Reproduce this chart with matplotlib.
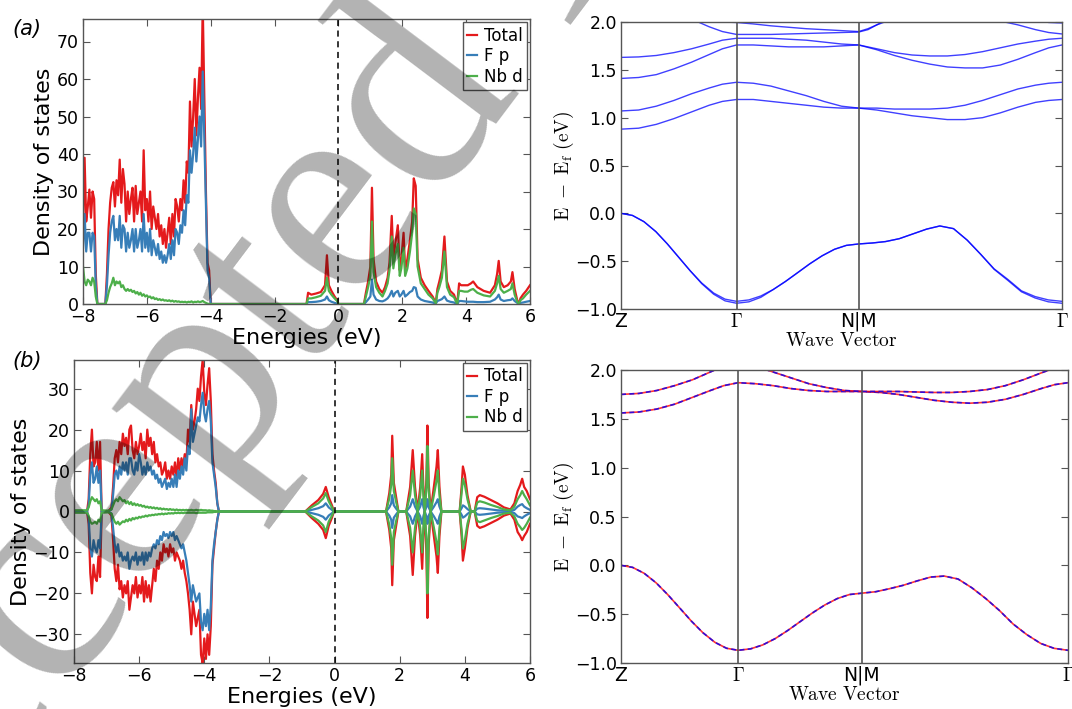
import numpy as np
import matplotlib.pyplot as plt

plt.rcParams['font.family'] = 'DejaVu Sans'
plt.rcParams['mathtext.fontset'] = 'cm'

RED, BLUE, GREEN = '#e41a1c', '#377eb8', '#4daf4a'
SPINE = '#555555'

# ---------------- DOS (a): valence part ----------------
ea_val = [-8.00, -7.95, -7.90, -7.85, -7.80, -7.75, -7.70, -7.65, -7.60, -7.55,
          -7.50, -7.40, -7.30, -7.25, -7.20, -7.15, -7.10, -7.05, -7.00, -6.95,
          -6.90, -6.85, -6.80, -6.75, -6.70, -6.65, -6.60, -6.55, -6.50, -6.45,
          -6.40, -6.35, -6.30, -6.25, -6.20, -6.15, -6.10, -6.05, -6.00, -5.95,
          -5.90, -5.85, -5.80, -5.75, -5.70, -5.65, -5.60, -5.55, -5.50, -5.45,
          -5.40, -5.35, -5.30, -5.25, -5.20, -5.15, -5.10, -5.05, -5.00, -4.95,
          -4.90, -4.85, -4.80, -4.75, -4.70, -4.65, -4.60, -4.55, -4.50, -4.45,
          -4.40, -4.35, -4.30, -4.25, -4.20, -4.15, -4.10, -4.05, -4.00]
tot_a_val = [20, 39, 22, 26, 30.5, 23, 30, 28, 8, 0,
             0, 0, 0, 8, 20, 27, 31, 32.5, 26, 33,
             29, 38.5, 27, 36, 32, 22, 30, 24, 28, 31,
             22, 31.5, 24, 27, 30, 22, 41, 25, 28, 22,
             30, 20, 26, 23, 20, 24, 18, 21, 16, 20,
             15, 19, 23, 16, 24, 18, 28, 26, 22, 28,
             25, 33, 27, 38, 35, 54, 42, 50, 60, 45,
             55, 63, 52, 80, 55, 30, 11, 9, 0]
fp_a_val = [15, 24, 14, 19, 19, 14, 19, 18, 5, 0,
            0, 0, 0, 5, 13, 19, 22, 23.5, 17, 20,
            17, 23.5, 15, 21, 20, 14, 19, 15, 17, 20,
            14, 20, 15, 17, 20, 14, 24, 15, 19, 14,
            20, 13, 17, 15, 13, 16, 12, 14, 11, 13,
            11, 13, 16, 12, 17, 13, 20, 19, 16, 21,
            19, 25, 21, 29, 27, 41, 35, 40, 47, 38,
            44, 50, 42, 62, 44, 25, 9, 7, 0]
nbd_a_val = [10, 6, 5, 6.5, 6, 5, 7, 6, 2, 0,
             0, 0, 0, 1, 3, 4.5, 5.5, 7, 5, 6,
             5.5, 6, 4.5, 5, 4, 3.5, 4, 3.5, 3.8, 3.2,
             3.5, 2.8, 3.2, 2.5, 3, 2.2, 2.6, 2, 2.3, 1.8,
             2, 1.5, 1.8, 1.3, 1.5, 1.1, 1.3, 1, 1.2, 0.9,
             1, 0.8, 1, 0.7, 0.9, 0.6, 0.8, 0.6, 0.7, 0.5,
             0.6, 0.5, 0.6, 0.4, 0.6, 0.5, 0.7, 0.4, 0.6, 0.5,
             0.7, 0.5, 0.6, 0.8, 0.5, 0.3, 0.1, 0, 0]

# ---------------- DOS (a): conduction part ----------------
ea_con = [-1.00, -0.95, -0.85, -0.70, -0.55, -0.42, -0.36, -0.30, -0.22, -0.12,
          -0.04, 0.00, 0.80, 0.86, 0.93, 1.00, 1.05, 1.10, 1.18, 1.28,
          1.38, 1.46, 1.54, 1.60, 1.67, 1.72, 1.78, 1.86, 1.92, 1.97,
          2.04, 2.09, 2.16, 2.24, 2.31, 2.36, 2.42, 2.48, 2.58, 2.70,
          2.82, 2.95, 3.05, 3.10, 3.16, 3.24, 3.32, 3.40, 3.50, 3.62,
          3.72, 3.78, 3.84, 3.95, 4.05, 4.15, 4.22, 4.35, 4.55, 4.75,
          4.90, 4.97, 5.02, 5.08, 5.18, 5.30, 5.40, 5.45, 5.52, 5.60,
          5.65, 5.70, 5.78, 5.88, 6.00]
tot_a_con = [0, 3, 2.5, 2.8, 3.2, 5, 13, 5, 3.5, 2,
             1, 0, 0, 3, 6, 10, 31, 12, 6, 4,
             3, 4.5, 7, 11, 23.5, 12, 16, 21, 9, 12,
             19, 9, 12, 17, 22, 33.5, 31.5, 12, 7, 5,
             3.5, 2, 0.3, 4, 6, 9, 18, 6, 3.5, 2.5,
             0, 5.5, 5, 5, 5, 5.5, 6, 4.5, 3.5, 3,
             5, 8, 11.5, 6, 4.5, 5, 6, 8.5, 4, 1,
             0, 1.5, 2.5, 3.5, 5]
fp_a_con = [0, 0.5, 0.5, 0.6, 0.8, 1.2, 2, 1, 0.6, 0.3,
            0.1, 0, 0, 0.5, 1.2, 2, 6.5, 2.5, 1.2, 0.8,
            0.7, 1, 1.5, 2.2, 3.5, 2, 3, 3.5, 2, 2.5,
            3.5, 2, 2.5, 3.2, 3.5, 4.5, 4.3, 2, 1.2, 0.8,
            0.6, 0.4, 0.1, 0.8, 1, 1.3, 2, 0.9, 0.6, 0.4,
            0, 0.8, 0.8, 0.7, 0.6, 0.6, 0.6, 0.5, 0.5, 0.6,
            1.2, 1.8, 2.5, 1.2, 0.8, 1, 1.1, 1.5, 0.8, 0.3,
            0, 0.3, 0.4, 0.6, 0.8]
nbd_a_con = [0, 1.5, 1.5, 1.8, 2.2, 3.5, 7, 3.5, 2.5, 1.5,
             0.8, 0, 0, 2, 4.5, 7.5, 22, 8.5, 4.5, 3,
             2, 3.5, 5.5, 9, 18, 9.5, 13, 16, 7.5, 9.5,
             15, 7.5, 9.5, 14, 19, 25.5, 24, 10, 5.5, 4,
             2.5, 1.5, 0.2, 3, 4.5, 7, 14, 4.5, 2.5, 1.8,
             0, 3.5, 3.5, 3.3, 3.3, 3.8, 4, 3, 2.3, 2,
             3.5, 5.5, 7.5, 4, 3, 3.5, 4, 5.5, 2.5, 0.6,
             0, 1, 1.5, 2.5, 3.5]

# ---------------- DOS (b): valence part (spin up / down) ----------------
eb_val = [-8.00, -7.60, -7.55, -7.50, -7.45, -7.40, -7.35, -7.30, -7.25, -7.20,
          -7.15, -6.95, -6.85, -6.80, -6.75, -6.70, -6.65, -6.60, -6.55, -6.50,
          -6.45, -6.40, -6.35, -6.30, -6.25, -6.20, -6.15, -6.10, -6.05, -6.00,
          -5.95, -5.90, -5.85, -5.80, -5.75, -5.70, -5.65, -5.60, -5.55, -5.50,
          -5.45, -5.40, -5.35, -5.30, -5.25, -5.20, -5.15, -5.10, -5.05, -5.00,
          -4.95, -4.90, -4.85, -4.80, -4.75, -4.70, -4.65, -4.60, -4.55, -4.50,
          -4.45, -4.40, -4.35, -4.30, -4.25, -4.20, -4.15, -4.10, -4.05, -4.00,
          -3.95, -3.90, -3.85, -3.80, -3.75, -3.70, -3.65, -3.60, -3.55]
tot_b_up_val = [0, 0, 3, 14, 20, 11, 12, 17, 10, 17,
                0, 0, 1, 6, 13, 15, 12, 17, 14, 19,
                16, 18, 14, 20, 21, 15, 13, 17, 14, 16,
                19, 15, 17, 13, 20, 16, 18, 14, 17, 12,
                14, 11, 12, 9, 10, 12, 8, 10, 8, 11,
                9, 12, 8, 13, 10, 13, 11, 14, 12, 20,
                17, 26, 20, 22, 25, 30, 27, 33, 37, 29,
                26, 31, 35, 27, 14, 10, 7, 2, 0]
fp_b_up_val = [0, 0, 1.5, 9, 12, 7, 8, 11, 7, 10,
               0, 0, 0.5, 4, 9, 10, 8, 11, 9, 12,
               10, 12, 9, 13, 13, 10, 9, 12, 10, 14,
               12, 9, 11, 9, 12, 10, 11, 9, 10, 8,
               9, 7, 8, 6, 7, 8, 5.5, 7, 6, 8,
               6, 9, 6, 10, 8, 11, 9, 13, 10, 16,
               14, 25, 17, 19, 21, 23, 22, 26, 29, 24,
               22, 25, 27, 22, 12, 9, 6, 2, 0]
nbd_b_up_val = [0.3, 0.3, 1, 2.5, 3.5, 3, 2.5, 3, 2, 2.5,
                0.3, 0.2, 0.5, 1.5, 2.5, 3, 2.5, 3.5, 3, 2.5,
                2.8, 2, 2.5, 1.8, 2.3, 1.6, 2, 1.5, 1.8, 1.4,
                1.6, 1.2, 1.4, 1.0, 1.2, 0.9, 1.1, 0.8, 1.0, 0.7,
                0.9, 0.6, 0.8, 0.5, 0.7, 0.5, 0.6, 0.4, 0.6, 0.4,
                0.5, 0.3, 0.5, 0.3, 0.4, 0.3, 0.4, 0.3, 0.4, 0.3,
                0.3, 0.4, 0.3, 0.3, 0.4, 0.3, 0.3, 0.4, 0.3, 0.3,
                0.3, 0.2, 0.3, 0.2, 0.2, 0.1, 0.1, 0.0, 0]
tot_b_dn_val = [0, 0, -3, -15, -20, -13, -16, -17, -11, -16,
                0, 0, -1, -7, -14, -17, -13, -19, -17, -21,
                -18, -20, -17, -24, -21, -18, -20, -16, -21, -18,
                -20, -16, -22, -17, -21, -18, -22, -18, -14, -17,
                -12, -14, -10, -12, -8, -10, -9, -11, -8, -10,
                -9, -12, -10, -11, -12, -14, -12, -15, -17, -20,
                -24, -30, -22, -25, -28, -26, -24, -35, -37, -31,
                -36, -30, -35, -28, -13, -9, -5, -2, 0]
fp_b_dn_val = [0, 0, -1.5, -9, -11, -7, -9, -10, -7, -9,
               0, 0, -0.5, -4, -8, -10, -8, -11, -10, -12,
               -11, -12, -10, -14, -12, -11, -12, -10, -13, -11,
               -12, -10, -13, -10, -12, -10, -11, -9, -8, -9,
               -7, -8, -6, -7, -5, -6, -5.5, -6.5, -5, -6,
               -5, -7, -6, -7, -8, -9, -8, -10, -12, -15,
               -18, -22, -18, -20, -22, -21, -20, -27, -29, -25,
               -28, -24, -29, -23, -12, -8, -5, -2, 0]
nbd_b_dn_val = [-0.3, -0.3, -1, -2.5, -3, -2.8, -2.5, -3, -2, -2.5,
                -0.3, -0.2, -0.5, -1.5, -2.5, -3, -2.5, -3.2, -2.8, -2.4,
                -2.6, -2, -2.4, -1.8, -2.2, -1.6, -1.9, -1.5, -1.7, -1.3,
                -1.5, -1.2, -1.3, -1.0, -1.2, -0.9, -1.0, -0.8, -0.9, -0.7,
                -0.8, -0.6, -0.7, -0.5, -0.7, -0.5, -0.6, -0.4, -0.5, -0.4,
                -0.5, -0.3, -0.4, -0.3, -0.4, -0.3, -0.4, -0.3, -0.3, -0.3,
                -0.3, -0.3, -0.3, -0.3, -0.4, -0.3, -0.3, -0.3, -0.3, -0.3,
                -0.3, -0.2, -0.2, -0.2, -0.2, -0.1, -0.1, 0, 0]

# ---------------- DOS (b): conduction part ----------------
eb_con = [-0.90, -0.70, -0.50, -0.35, -0.27, -0.18, -0.08, -0.02,
          1.58, 1.68, 1.74, 1.77, 1.82, 1.90, 1.96,
          2.20, 2.32, 2.40, 2.47, 2.55, 2.63, 2.69, 2.73, 2.77, 2.82, 2.85, 2.89,
          2.95, 3.05, 3.13, 3.17, 3.22, 3.28,
          3.84, 3.90, 3.94, 4.00, 4.08, 4.18,
          4.30, 4.38, 4.46, 4.60, 4.80, 5.00, 5.20, 5.40,
          5.52, 5.62, 5.70, 5.76, 5.82, 5.90, 6.00]
tot_b_up_con = [0, 1.5, 2.8, 4.3, 6, 3.5, 1.5, 0,
                0, 4.5, 9, 18.5, 7, 3, 0,
                0, 6, 15, 6, 0, 6, 14, 5, 0, 8, 21, 7, 0, 6, 11, 15, 6, 0,
                0, 6, 11, 9, 4, 0,
                0, 3.5, 4, 3.6, 2.8, 2, 1, 0.5,
                2, 5, 6.5, 8, 6, 5, 3]
fp_b_up_con = [0, 0.4, 0.8, 1.3, 2, 1, 0.4, 0,
               0, 1, 2, 4, 1.5, 0.6, 0,
               0, 1.2, 3, 1.2, 0, 1.2, 3, 1, 0, 1.2, 3, 1, 0, 1.2, 2.3, 3, 1.2, 0,
               0, 0.8, 1.5, 1.2, 0.6, 0,
               0, 0.7, 0.8, 0.7, 0.5, 0.3, 0.2, 0.1,
               0.4, 1.2, 1.6, 1.8, 1.2, 0.8, 0.4]
nbd_b_up_con = [0, 1.1, 2, 3.2, 4.5, 2.5, 1, 0,
                0, 3.2, 6.5, 13, 5, 2, 0,
                0, 4, 10, 4, 0, 4, 10, 3.5, 0, 6, 16, 5, 0, 4, 7.5, 10, 4, 0,
                0, 4.5, 8, 6.5, 3, 0,
                0, 2.2, 2.5, 2.2, 1.6, 1.1, 0.5, 0.3,
                1.2, 3, 4, 5, 4, 3, 1.5]
tot_b_dn_con = [0, -1.6, -3, -4.5, -6.5, -3.5, -1.5, 0,
                0, -4.5, -9, -18, -7, -3, 0,
                0, -6, -15.5, -6, 0, -6, -14, -5, 0, -10, -26, -8, 0, -6, -11, -15, -6, 0,
                0, -6, -12, -9, -4, 0,
                0, -3.5, -4, -3.6, -2.8, -2, -1, -0.5,
                -2, -5, -6, -7, -6, -5, -3]
fp_b_dn_con = [0, -0.4, -0.8, -1.3, -2, -1, -0.4, 0,
               0, -1, -2, -4, -1.5, -0.6, 0,
               0, -1.2, -3, -1.2, 0, -1.2, -3, -1, 0, -1.2, -3, -1, 0, -1.2, -2.3, -3, -1.2, 0,
               0, -0.8, -1.5, -1.2, -0.6, 0,
               0, -0.7, -0.8, -0.7, -0.5, -0.3, -0.2, -0.1,
               -0.4, -1.2, -1.4, -1.6, -1.2, -0.8, -0.4]
nbd_b_dn_con = [0, -1.2, -2.2, -3.4, -5, -2.5, -1, 0,
                0, -3.2, -6.5, -13, -5, -2, 0,
                0, -4, -10, -4, 0, -4, -10, -3.5, 0, -7, -20, -6, 0, -4, -7.5, -10.5, -4, 0,
                0, -4.5, -9, -7, -3, 0,
                0, -2.3, -2.6, -2.2, -1.6, -1.1, -0.5, -0.3,
                -1.2, -3, -3.8, -4.5, -4, -3, -1.5]

# ---------------- band structures ----------------
k_ticks = [0.0, 0.262, 0.539, 1.0]
k_labels = ['Z', r'$\Gamma$', 'N|M', r'$\Gamma$']

# conduction bands sampled on this path
kpath = [0.0, 0.04, 0.08, 0.12, 0.16, 0.20, 0.23, 0.262,
         0.30, 0.34, 0.38, 0.42, 0.46, 0.50, 0.539,
         0.58, 0.62, 0.66, 0.70, 0.74, 0.78, 0.82, 0.86, 0.90, 0.94, 0.97, 1.0]
# valence bands sampled more densely (more curvature)
kval = [0.0, 0.026, 0.052, 0.079, 0.105, 0.131, 0.157, 0.183, 0.210, 0.236, 0.262,
        0.290, 0.317, 0.345, 0.373, 0.400, 0.428, 0.456, 0.484, 0.511, 0.539,
        0.570, 0.600, 0.631, 0.662, 0.693, 0.723, 0.754, 0.785, 0.816, 0.846,
        0.877, 0.908, 0.939, 0.969, 1.0]

# (a) bands
vb_c1 = [0.0, -0.022, -0.087, -0.191, -0.319, -0.46, -0.601, -0.728, -0.833, -0.897, -0.92,
         -0.905, -0.864, -0.797, -0.712, -0.622, -0.528, -0.444, -0.376, -0.335, -0.32,
         -0.31, -0.295, -0.265, -0.215, -0.165, -0.132, -0.16, -0.28, -0.43, -0.58,
         -0.69, -0.81, -0.87, -0.905, -0.92]
vb_c2 = [0.0, -0.022, -0.087, -0.191, -0.319, -0.46, -0.601, -0.735, -0.845, -0.915, -0.94,
         -0.925, -0.878, -0.797, -0.712, -0.622, -0.528, -0.444, -0.376, -0.335, -0.32,
         -0.31, -0.295, -0.265, -0.215, -0.165, -0.132, -0.16, -0.28, -0.43, -0.585,
         -0.70, -0.82, -0.885, -0.925, -0.94]
cb_c1 = [0.88, 0.89, 0.93, 0.99, 1.06, 1.13, 1.17, 1.19,
         1.19, 1.17, 1.15, 1.13, 1.11, 1.10, 1.10,
         1.08, 1.05, 1.02, 1.00, 0.98, 0.98, 1.00, 1.05, 1.11, 1.16, 1.18, 1.19]
cb_c2 = [1.07, 1.08, 1.12, 1.18, 1.25, 1.31, 1.35, 1.37,
         1.36, 1.33, 1.28, 1.23, 1.17, 1.12, 1.10,
         1.10, 1.09, 1.09, 1.09, 1.10, 1.13, 1.18, 1.24, 1.30, 1.34, 1.36, 1.37]
cb_c3 = [1.41, 1.42, 1.45, 1.51, 1.58, 1.66, 1.72, 1.76,
         1.76, 1.75, 1.74, 1.74, 1.74, 1.75, 1.76,
         1.71, 1.65, 1.60, 1.56, 1.53, 1.52, 1.52, 1.55, 1.61, 1.68, 1.73, 1.76]
cb_c4 = [1.63, 1.635, 1.65, 1.68, 1.72, 1.77, 1.81, 1.83,
         1.83, 1.83, 1.82, 1.81, 1.79, 1.77, 1.76,
         1.72, 1.68, 1.655, 1.645, 1.645, 1.66, 1.69, 1.73, 1.77, 1.80, 1.82, 1.83]
k_c5 = [0.17, 0.20, 0.23, 0.262, 0.30, 0.34, 0.38, 0.42, 0.46, 0.50, 0.539, 0.56, 0.58, 0.60]
cb_c5 = [2.01, 1.95, 1.90, 1.87, 1.87, 1.87, 1.875, 1.88, 1.885, 1.89, 1.895, 1.92, 1.97, 2.02]
k_c6 = [0.22, 0.24, 0.262, 0.30, 0.34, 0.38, 0.42, 0.46, 0.50, 0.539, 0.56, 0.58, 0.61]
cb_c6 = [2.005, 1.998, 1.995, 1.98, 1.96, 1.945, 1.93, 1.92, 1.91, 1.90, 1.93, 1.97, 2.02]
k_c7 = [0.86, 0.90, 0.94, 0.97, 1.0]
cb_c7 = [2.01, 1.97, 1.92, 1.89, 1.875]
k_c8 = [0.95, 0.97, 1.0]
cb_c8 = [2.01, 1.995, 1.99]

# (b) bands
vb_d = [0.0, -0.021, -0.082, -0.181, -0.302, -0.435, -0.569, -0.689, -0.788, -0.849, -0.87,
        -0.855, -0.815, -0.75, -0.667, -0.579, -0.488, -0.406, -0.34, -0.299, -0.285,
        -0.27, -0.24, -0.205, -0.16, -0.12, -0.11, -0.14, -0.23, -0.34, -0.46,
        -0.60, -0.71, -0.80, -0.85, -0.87]
cb_d1 = [1.56, 1.57, 1.60, 1.65, 1.72, 1.79, 1.84, 1.87,
         1.86, 1.84, 1.81, 1.79, 1.78, 1.78, 1.78,
         1.77, 1.75, 1.72, 1.69, 1.67, 1.66, 1.67, 1.70, 1.75, 1.81, 1.85, 1.87]
cb_d2 = [1.75, 1.76, 1.79, 1.84, 1.90, 1.98, 2.04, 2.08,
         2.04, 1.98, 1.92, 1.86, 1.82, 1.79, 1.78,
         1.78, 1.78, 1.775, 1.77, 1.77, 1.78, 1.80, 1.84, 1.90, 1.97, 2.02, 2.06]

W, H = 1072, 709
fig = plt.figure(figsize=(W / 100, H / 100), dpi=100)


def box(l, r, t, b):
    return [l / W, 1 - b / H, (r - l) / W, (b - t) / H]


ax_a = fig.add_axes(box(83, 530, 19, 304))
ax_b = fig.add_axes(box(74, 530, 360, 663))
ax_c = fig.add_axes(box(621, 1062, 22, 309))
ax_d = fig.add_axes(box(621, 1068, 370, 663))

for ax in (ax_a, ax_b, ax_c, ax_d):
    for s in ax.spines.values():
        s.set_color(SPINE)
        s.set_linewidth(1.0)
    ax.tick_params(direction='in', top=True, right=True, length=5, width=0.8,
                   color=SPINE, labelsize=12.5, pad=3)

lw = 1.6
# panel (a)
ea = ea_val + ea_con
ax_a.plot(ea, tot_a_val + tot_a_con, color=RED, lw=lw, label='Total')
ax_a.plot(ea, fp_a_val + fp_a_con, color=BLUE, lw=lw, label='F p')
ax_a.plot(ea, nbd_a_val + nbd_a_con, color=GREEN, lw=lw, label='Nb d')
ax_a.axvline(0, color='black', lw=1.1, ls=(0, (4, 3)))
ax_a.set_xlim(-8, 6)
ax_a.set_ylim(0, 76)
ax_a.set_xticks(range(-8, 7, 2))
ax_a.set_yticks(range(0, 71, 10))

# panel (b)
eb = eb_val + eb_con
ax_b.plot(eb, tot_b_up_val + tot_b_up_con, color=RED, lw=lw, label='Total')
ax_b.plot(eb, tot_b_dn_val + tot_b_dn_con, color=RED, lw=lw)
ax_b.plot(eb, fp_b_up_val + fp_b_up_con, color=BLUE, lw=lw, label='F p')
ax_b.plot(eb, fp_b_dn_val + fp_b_dn_con, color=BLUE, lw=lw)
ax_b.plot(eb, nbd_b_up_val + nbd_b_up_con, color=GREEN, lw=lw, label='Nb d')
ax_b.plot(eb, nbd_b_dn_val + nbd_b_dn_con, color=GREEN, lw=lw)
ax_b.axvline(0, color='black', lw=1.1, ls=(0, (4, 3)))
ax_b.set_xlim(-8, 6)
ax_b.set_ylim(-37, 37)
ax_b.set_xticks(range(-8, 7, 2))
ax_b.set_yticks(range(-30, 31, 10))

for ax in (ax_a, ax_b):
    ax.set_xlabel('Energies (eV)', fontsize=16, labelpad=1)
    ax.set_ylabel('Density of states', fontsize=16, labelpad=2)
    leg = ax.legend(loc='upper right', fontsize=12, handlelength=0.6,
                    handletextpad=0.4, borderpad=0.25, labelspacing=0.15,
                    borderaxespad=0.2, fancybox=False, framealpha=1)
    leg.get_frame().set_edgecolor(SPINE)

fig.text(0.012, 0.951, '(a)', fontsize=15, style='italic')
fig.text(0.012, 0.482, '(b)', fontsize=15, style='italic')

# panel (c)
ax_c.plot(kval, vb_c1, color='blue', lw=1, alpha=0.75)
ax_c.plot(kval, vb_c2, color='blue', lw=1, alpha=0.75)
for band in (cb_c1, cb_c2, cb_c3, cb_c4):
    ax_c.plot(kpath, band, color='blue', lw=1, alpha=0.75)
ax_c.plot(k_c5, cb_c5, color='blue', lw=1, alpha=0.75)
ax_c.plot(k_c6, cb_c6, color='blue', lw=1, alpha=0.75)
ax_c.plot(k_c7, cb_c7, color='blue', lw=1, alpha=0.75)
ax_c.plot(k_c8, cb_c8, color='blue', lw=1, alpha=0.75)

# panel (d)
for kk, band in ((kval, vb_d), (kpath, cb_d1), (kpath, cb_d2)):
    ax_d.plot(kk, band, color='red', lw=1.2, alpha=0.8)
    ax_d.plot(kk, band, color='blue', lw=1.2, ls=(0, (3, 2)), alpha=0.8)

for ax in (ax_c, ax_d):
    for k in k_ticks[1:3]:
        ax.axvline(k, color=SPINE, lw=1.2)
    ax.set_xlim(0, 1)
    ax.set_ylim(-1.0, 2.0)
    ax.set_yticks([-1.0, -0.5, 0.0, 0.5, 1.0, 1.5, 2.0])
    ax.set_xticks(k_ticks)
    ax.set_xticklabels(k_labels)
    ax.tick_params(axis='x', length=0, labelsize=13.5, pad=2)
    ax.set_xlabel(r'$\mathrm{Wave\ Vector}$', fontsize=14, labelpad=0)
    ax.set_ylabel(r'$\mathrm{E\ -\ E_f\ (eV)}$', fontsize=14, labelpad=-1)

# watermark (starts off-canvas at the lower left)
fig.text(-0.137, -0.379, 'Accepted Manuscript', rotation=53, rotation_mode='anchor',
         ha='left', va='baseline', fontsize=212, family='Liberation Serif',
         color='black', alpha=0.3)

fig.savefig('out.png', dpi=100)
